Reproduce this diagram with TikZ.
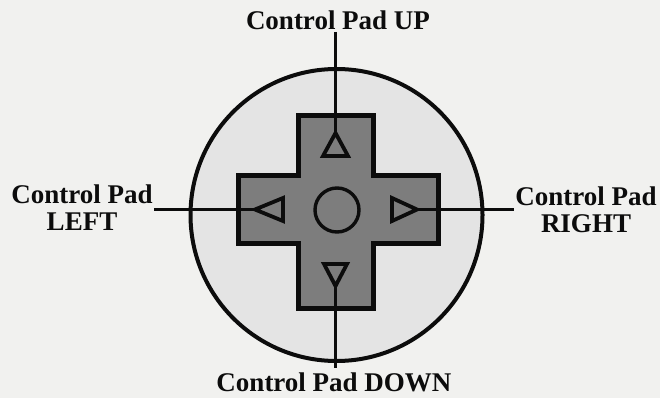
\documentclass[tikz,border=0pt]{standalone}
\usepackage{fontspec}
\setmainfont{Liberation Serif}
\usepackage{xcolor}
\usetikzlibrary{calc,positioning}
\definecolor{paper}{RGB}{241,241,239}
\definecolor{padbase}{RGB}{228,228,228}
\definecolor{padcross}{RGB}{125,125,125}
\definecolor{padink}{RGB}{12,12,12}
\tikzset{
  padlabel/.style={font=\fontsize{27}{27}\selectfont\bfseries,
                   text=padink, inner sep=1.5pt, align=center},
  padring/.style={draw=padink, line width=4pt, fill=padbase},
  padplus/.style={draw=padink, line width=5pt, fill=padcross,
                  line join=miter},
  padarrow/.style={draw=padink, line width=3.8pt, fill=padcross,
                   line join=miter},
  pointer/.style={draw=padink, line width=2.2pt},
}

\begin{document}
\begin{tikzpicture}[x=1pt, y=-1pt]
\useasboundingbox[fill=paper] (0,0) rectangle (660,398);
% base disc and the cross on top of it
\draw[padring] (336.5,215) circle (146);
\draw[padplus] (298,116) -- (373,116) -- (373,175) -- (438,175)
  -- (438,243) -- (373,243) -- (373,308) -- (298,308) -- (298,243)
  -- (238,243) -- (238,175) -- (298,175) -- cycle;
% centre button
\draw[padarrow, line width=3.4pt] (337,210) circle (22);
% direction marks, tips named for the pointers
\coordinate (uptip) at (335.5,133);
\coordinate (downtip) at (335.5,286);
\coordinate (lefttip) at (255,209.5);
\coordinate (righttip) at (417,209.5);
\draw[padarrow] (uptip) -- (348,156) -- (323,156) -- cycle;
\draw[padarrow] (downtip) -- (324,264) -- (347,264) -- cycle;
\draw[padarrow] (lefttip) -- (283,198) -- (283,221) -- cycle;
\draw[padarrow] (righttip) -- (392,198) -- (392,221) -- cycle;
% labels
\node[padlabel, anchor=base] (lblup) at (338,30) {Control Pad UP};
\node[padlabel, anchor=base] (lbldown) at (334,391) {Control Pad DOWN};
\node[padlabel] (lblleft) at (82,208) {Control Pad\\LEFT};
\node[padlabel] (lblright) at (586,210) {Control Pad\\RIGHT};
% pointer lines
\draw[pointer] (lblup.south -| uptip) -- (uptip);
\draw[pointer] (downtip) -- ($(lbldown.north -| downtip)+(0,-3)$);
\draw[pointer] (lblleft.east |- lefttip) -- (lefttip);
\draw[pointer] (righttip) -- (lblright.west |- righttip);
\end{tikzpicture}
\end{document}
